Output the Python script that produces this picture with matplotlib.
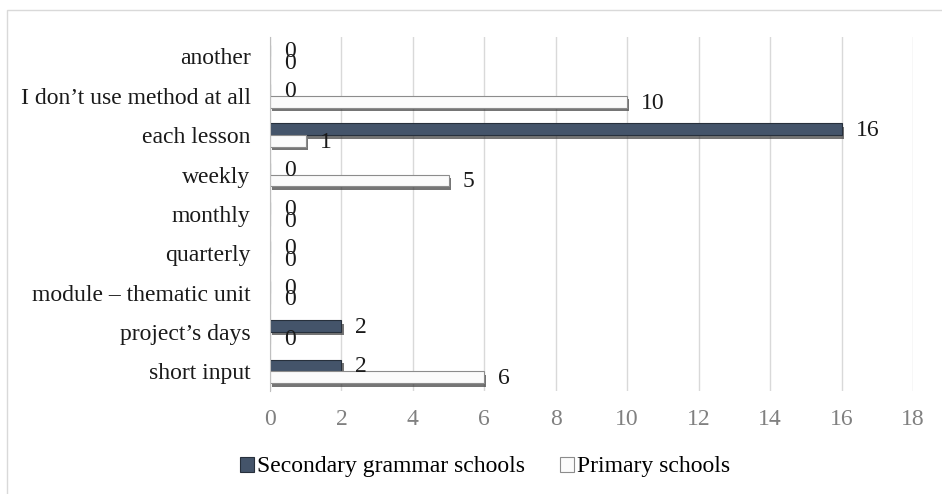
import numpy as np
import matplotlib.pyplot as plt
from matplotlib import patheffects as pe
from matplotlib.patches import Rectangle

plt.rcParams['font.family'] = ['Liberation Serif', 'DejaVu Serif']

categories = ['another', 'I don\u2019t use method at all', 'each lesson', 'weekly',
              'monthly', 'quarterly', 'module \u2013 thematic unit',
              'project\u2019s days', 'short input']
secondary = [0, 0, 16, 0, 0, 0, 0, 2, 2]
primary = [0, 10, 1, 5, 0, 0, 0, 0, 6]
xticks = [0, 2, 4, 6, 8, 10, 12, 14, 16, 18]

fig = plt.figure(figsize=(9.42, 4.94), dpi=100)
ax = fig.add_axes([0.2866, 0.2085, 0.6826, 0.717])

y = np.arange(len(categories))
h = 0.3
shadow = [pe.SimplePatchShadow(offset=(1.5, -2.5), shadow_rgbFace='#3a3a3a', alpha=0.7), pe.Normal()]

b1 = ax.barh(y - h / 2, secondary, height=h, color='#44546a', edgecolor='#27303c',
             linewidth=0.8, label='Secondary grammar schools', zorder=3)
b2 = ax.barh(y + h / 2, primary, height=h, color='#fbfbfb', edgecolor='#8c8c8c',
             linewidth=0.8, label='Primary schools', zorder=3)
for bar in list(b1) + list(b2):
    if bar.get_width() > 0:
        bar.set_path_effects(shadow)

# value labels just past the bar ends
for yi, v in zip(y - h / 2, secondary):
    ax.annotate(str(v), (v, yi), xytext=(10, -1), textcoords='offset points',
                ha='left', va='center', fontsize=17, color='#1a1a1a')
for yi, v in zip(y + h / 2, primary):
    ax.annotate(str(v), (v, yi), xytext=(10, -1), textcoords='offset points',
                ha='left', va='center', fontsize=17, color='#1a1a1a')

ax.set_ylim(len(categories) - 0.5, -0.5)
ax.set_xlim(0, 18)
ax.set_yticks(y)
ax.set_yticklabels(categories, fontsize=17, color='#1a1a1a')
ax.set_xticks(xticks)
ax.set_xticklabels([str(t) for t in xticks], fontsize=17, color='#808080')
ax.tick_params(axis='y', length=0, pad=14)
ax.tick_params(axis='x', length=0, pad=13)
ax.grid(axis='x', color='#d9d9d9', linewidth=1.0, zorder=0)
for s in ['top', 'right', 'bottom']:
    ax.spines[s].set_visible(False)
ax.spines['left'].set_color('#bfbfbf')
ax.spines['left'].set_zorder(4)

leg = fig.legend(handles=[b1, b2], loc='center', bbox_to_anchor=(0.515, 0.055), ncol=2,
                 frameon=False, fontsize=17, handlelength=0.6, handleheight=0.6,
                 handletextpad=0.12, columnspacing=1.5)

# chart area outline
fig.patches.append(Rectangle((0.0074, -0.05), 1.05, 1.03, transform=fig.transFigure,
                             fill=False, edgecolor='#d9d9d9', linewidth=1.0))

fig.savefig('out.png', dpi=100)
